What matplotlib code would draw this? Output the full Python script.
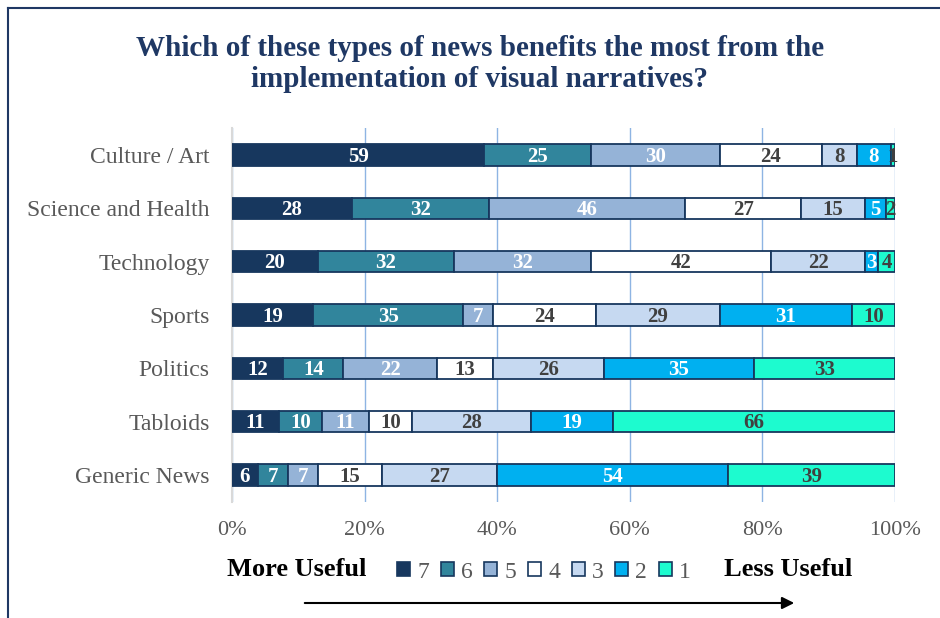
import numpy as np
import matplotlib.pyplot as plt
from matplotlib.patches import Patch
from matplotlib.lines import Line2D

plt.rcParams['font.family'] = ['Liberation Serif', 'DejaVu Serif']

categories = ['Culture / Art', 'Science and Health', 'Technology', 'Sports',
              'Politics', 'Tabloids', 'Generic News']
levels = ['7', '6', '5', '4', '3', '2', '1']
counts = [
    [59, 25, 30, 24, 8, 8, 1],
    [28, 32, 46, 27, 15, 5, 2],
    [20, 32, 32, 42, 22, 3, 4],
    [19, 35, 7, 24, 29, 31, 10],
    [12, 14, 22, 13, 26, 35, 33],
    [11, 10, 11, 10, 28, 19, 66],
    [6, 7, 7, 15, 27, 54, 39],
]
colors = ['#17375E', '#31859C', '#95B3D7', '#FFFFFF', '#C6D9F1', '#00B0F0', '#1DFBCF']
text_colors = ['white', 'white', 'white', '#404040', '#404040', 'white', '#404040']
edge = '#17375E'

data = np.array(counts, dtype=float)
share = data / data.sum(axis=1, keepdims=True)

fig = plt.figure(figsize=(9.4, 6.18), dpi=100)
ax = fig.add_axes([232/940, 1-501.7/618, 663/940, 373.4/618])

y = np.arange(len(categories))
left = np.zeros(len(categories))
for j, lev in enumerate(levels):
    ax.barh(y, share[:, j], left=left, height=0.4, color=colors[j],
            edgecolor=edge, linewidth=1.3, zorder=3)
    for i in range(len(categories)):
        ax.text(left[i] + share[i, j]/2, y[i] + 0.03, str(counts[i][j]),
                ha='center', va='center', fontsize=15, fontweight='bold',
                color=text_colors[j], zorder=4)
    left += share[:, j]

ax.set_ylim(len(categories) - 0.5, -0.5)
ax.set_xlim(0, 1)
ax.set_yticks(y)
ax.set_yticklabels(categories, fontsize=17, color='#595959')
ax.set_xticks(np.arange(0, 1.01, 0.2))
ax.set_xticklabels(['0%', '20%', '40%', '60%', '80%', '100%'], fontsize=16, color='#595959')
ax.tick_params(length=0)
ax.tick_params(axis='x', pad=14)
ax.tick_params(axis='y', pad=16)
ax.grid(axis='x', color='#8EB4E3', linewidth=1, zorder=0)
for s in ['top', 'right', 'bottom']:
    ax.spines[s].set_visible(False)
ax.spines['left'].set_color('#D9D9D9')
ax.spines['left'].set_linewidth(1.5)

fig.text(480/940, 1-64/618, 'Which of these types of news benefits the most from the\nimplementation of visual narratives?',
         ha='center', va='center', fontsize=21, fontweight='bold', color='#1F3864',
         linespacing=1.15)

handles = [Patch(facecolor=c, edgecolor=edge, linewidth=1.2) for c in colors]
leg = fig.legend(handles, levels, loc='center', bbox_to_anchor=(544/940, 1-572/618),
                 ncol=7, frameon=False, fontsize=17, handlelength=0.55, handleheight=0.55,
                 handletextpad=0.3, columnspacing=0.5)
for t in leg.get_texts():
    t.set_color('#595959')
fig.text(297/940, 1-570/618, 'More Useful', ha='center', va='center',
         fontsize=19, fontweight='bold', color='black')
fig.text(788/940, 1-570/618, 'Less Useful', ha='center', va='center',
         fontsize=19, fontweight='bold', color='black')
ax.annotate('', xy=(797/940, 1-603/618), xytext=(302/940, 1-603/618),
            xycoords='figure fraction', textcoords='figure fraction',
            arrowprops=dict(arrowstyle='-|>', color='black', lw=1.5, mutation_scale=18))

fig.add_artist(Line2D([8/940, 8/940], [0, 1-8/618], transform=fig.transFigure,
                      color='#1F3864', linewidth=1.5))
fig.add_artist(Line2D([8/940, 1], [1-8/618, 1-8/618], transform=fig.transFigure,
                      color='#1F3864', linewidth=1.5))

fig.savefig('out.png', dpi=100)
